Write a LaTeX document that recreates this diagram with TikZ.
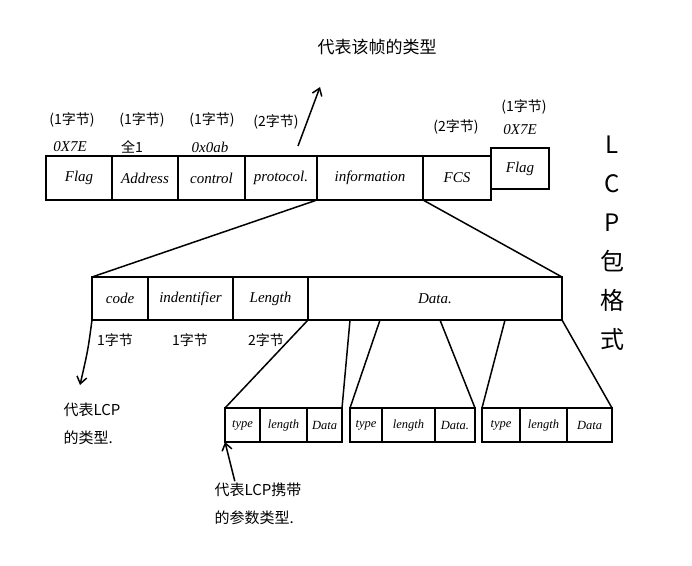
\documentclass[tikz,border=0pt]{standalone}
\usepackage{fontspec}
\setmainfont{Liberation Serif}
\newfontfamily\cjk{Noto Sans CJK SC}
\usetikzlibrary{calc,arrows.meta}
\begin{document}
\begin{tikzpicture}[x=1pt,y=-1pt,line width=1.6pt,
  cell/.style={draw,rectangle,inner sep=0pt,outer sep=0pt,font=\itshape\fontsize{15}{15}\selectfont},
  small/.style={cell,font=\itshape\fontsize{12.5}{12.5}\selectfont},
  lbl/.style={inner sep=1pt,font=\itshape\fontsize{15}{15}\selectfont},
  cn/.style={inner sep=1pt,font=\cjk\fontsize{14}{26}\selectfont,align=left},
  conn/.style={line width=1.5pt},
  arr/.style={-{Straight Barb[length=7pt,width=10pt]},line width=1.5pt}]
\useasboundingbox (0,0) rectangle (692,565);
% top row
\node[cell,minimum width=66,minimum height=44] (flagA) at (79,178) {Flag};
\node[cell,minimum width=66,minimum height=44] (addr) at (145,178) {Address};
\node[cell,minimum width=67,minimum height=44] (ctrl) at (211.5,178) {control};
\node[cell,minimum width=72,minimum height=44] (proto) at (281,178) {protocol.};
\node[cell,minimum width=106,minimum height=44] (info) at (370,178) {information};
\node[cell,minimum width=68,minimum height=44] (fcs) at (457,178) {FCS};
\node[cell,minimum width=58,minimum height=41] (flagB) at (520,168.5) {Flag};
% labels above
\node[cn] (bA) at (72,120) {(1字节)};
\node[lbl] (vA) at (70,147) {0X7E};
\node[cn] (bB) at (142,120) {(1字节)};
\node[cn] (vB) at (132,147) {全1};
\node[cn] (bC) at (212,120) {(1字节)};
\node[lbl] (vC) at (210,147) {0x0ab};
\node[cn] (bD) at (276,122) {(2字节)};
\node[cn] (bE) at (456,127) {(2字节)};
\node[cn] (bF) at (524,107) {(1字节)};
\node[lbl] (vF) at (520,130) {0X7E};
\node[inner sep=1pt,font=\cjk\fontsize{17}{17}\selectfont] (top) at (377,47) {代表该帧的类型};
\coordinate (tip) at (320,87);
\draw[arr] ($(proto.north east)+(-19,-10)$) -- (tip);
% right vertical title
\node[inner sep=0pt,align=center,font=\cjk\fontsize{24}{39}\selectfont] (title) at (612,243) {L\\C\\P\\包\\格\\式};
% second row
\node[cell,minimum width=56,minimum height=43] (code) at (120,298.5) {code};
\node[cell,minimum width=85,minimum height=43] (ident) at (190.5,298.5) {indentifier};
\node[cell,minimum width=75,minimum height=43] (len) at (270.5,298.5) {Length};
\node[cell,minimum width=254,minimum height=43] (data) at (435,298.5) {Data.};
\node[cn] (cA) at (115,340) {1字节};
\node[cn] (cB) at (190,340) {1字节};
\node[cn] (cC) at (266,340) {2字节};
\draw[conn] (info.south west) -- (code.north west);
\draw[conn] (fcs.south west) -- (data.north east);
% note for code
\node[cn,font=\cjk\fontsize{15}{28}\selectfont] (codeNote) at (92,424) {代表LCP\\的类型.};
\draw[arr] (code.south west) .. controls (88,350) .. (80,385);
% third row
\node[small,minimum width=35,minimum height=34] (t1) at (242.5,425) {type};
\node[small,minimum width=47,minimum height=34] (l1) at (283.5,425) {length};
\node[small,minimum width=35,minimum height=34] (d1) at (324.5,425) {Data};
\node[small,minimum width=32,minimum height=34] (t2) at (366,425) {type};
\node[small,minimum width=53,minimum height=34] (l2) at (408.5,425) {length};
\node[small,minimum width=40,minimum height=34] (d2) at (455,425) {Data.};
\node[small,minimum width=38,minimum height=34] (t3) at (501,425) {type};
\node[small,minimum width=47,minimum height=34] (l3) at (543.5,425) {length};
\node[small,minimum width=45,minimum height=34] (d3) at (589.5,425) {Data};
\draw[conn] (len.south east) -- (t1.north west);
\draw[conn] ($(data.south west)+(42,0)$) -- (d1.north east);
\draw[conn] ($(data.south west)+(72,0)$) -- (t2.north west);
\draw[conn] ($(data.south west)+(132,0)$) -- (d2.north east);
\draw[conn] ($(data.south west)+(197,0)$) -- (t3.north west);
\draw[conn] (data.south east) -- (d3.north east);
% note for parameters
\node[cn,font=\cjk\fontsize{15}{28}\selectfont] (parNote) at (258,504) {代表LCP携带\\的参数类型.};
\draw[arr] ($(parNote.north west)+(22,0)$) -- (t1.south west);
\end{tikzpicture}
\end{document}
